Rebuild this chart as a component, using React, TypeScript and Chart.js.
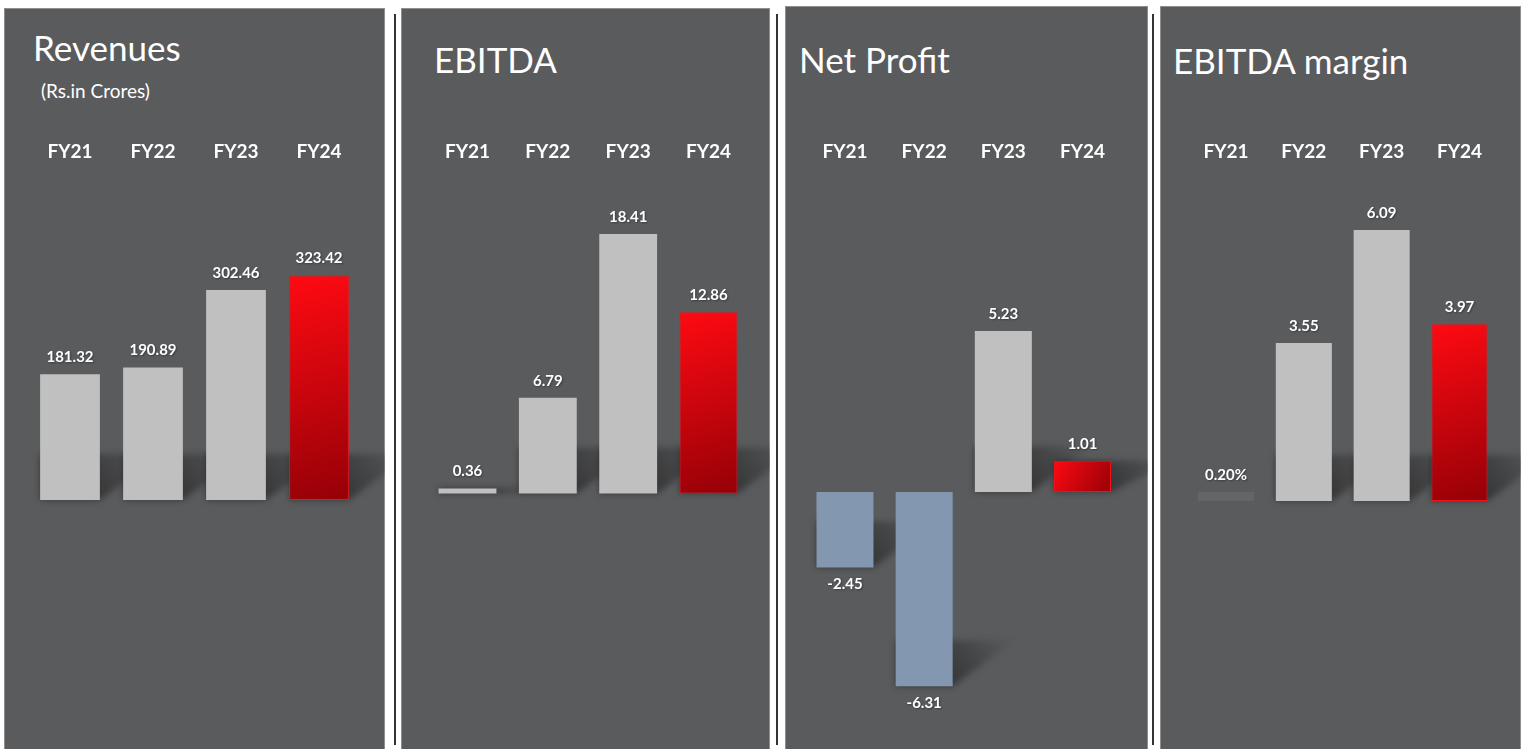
import React, { useEffect, useRef } from 'react';
import { Chart, registerables } from 'chart.js';

Chart.register(...registerables);

// ---------- data ----------
const categories = ['FY21', 'FY22', 'FY23', 'FY24'];
const revenues = [181.32, 190.89, 302.46, 323.42];
const ebitda = [0.36, 6.79, 18.41, 12.86];
const netProfit = [-2.45, -6.31, 5.23, 1.01];
const ebitdaMargin = [0.2, 3.55, 6.09, 3.97];
const marginLabels = ['0.20%', '3.55', '6.09', '3.97'];

const GRAY = '#c0c0c0';
const BLUE = '#8497b0';
const RED = 'RED';
const FAINT = 'rgba(150,150,150,0.18)';
const BG = '#5a5b5d';

type PanelCfg = {
  key: string;
  left: number;
  top: number;
  width: number;
  height: number;
  values: number[];
  labels: string[];
  colors: string[];
  yMin: number;
  yMax: number;
  padLeft: number;
  padRight: number;
  title: string;
  titleLeft: number;
  titleTop: number;
  subtitle?: string;
};

const fmt = (arr: number[]) => arr.map((v) => v.toFixed(2));

const panels: PanelCfg[] = [
  {
    key: 'rev', left: 4, top: 8, width: 381, height: 741,
    values: revenues, labels: fmt(revenues), colors: [GRAY, GRAY, GRAY, RED],
    yMin: -344.4, yMax: 480.7, padLeft: 24.5, padRight: 24.5,
    title: 'Revenues', titleLeft: 33, titleTop: 30, subtitle: '(Rs.in Crores)',
  },
  {
    key: 'ebitda', left: 401, top: 8, width: 369, height: 741,
    values: ebitda, labels: fmt(ebitda), colors: [GRAY, GRAY, GRAY, RED],
    yMin: -17.4, yMax: 23.2, padLeft: 26.3, padRight: 21.3,
    title: 'EBITDA', titleLeft: 434, titleTop: 42,
  },
  {
    key: 'np', left: 785, top: 6, width: 363, height: 743,
    values: netProfit, labels: fmt(netProfit), colors: [BLUE, BLUE, GRAY, RED],
    yMin: -8.02, yMax: 10.57, padLeft: 20.4, padRight: 25.9,
    title: 'Net Profit', titleLeft: 799, titleTop: 42,
  },
  {
    key: 'margin', left: 1160, top: 6, width: 361, height: 743,
    values: ebitdaMargin, labels: marginLabels, colors: [FAINT, GRAY, GRAY, RED],
    yMin: -5.35, yMax: 7.52, padLeft: 27.1, padRight: 22.6,
    title: 'EBITDA margin', titleLeft: 1173, titleTop: 43,
  },
];

function Panel({ cfg }: { cfg: PanelCfg }) {
  const ref = useRef<HTMLCanvasElement | null>(null);

  useEffect(() => {
    const canvas = ref.current;
    if (!canvas) return;

    const shadowPlugin = {
      id: 'barShadow',
      beforeDatasetsDraw(chart: any) {
        const ctx = chart.ctx as CanvasRenderingContext2D;
        const meta = chart.getDatasetMeta(0);
        meta.data.forEach((el: any, i: number) => {
          if (cfg.colors[i] === FAINT) return;
          const { x, y, base, width } = el.getProps(['x', 'y', 'base', 'width'], true);
          const left = x - width / 2;
          const right = x + width / 2;
          const bottom = Math.max(y, base);
          const top = Math.min(y, base);
          const h = Math.min(46, bottom - top);
          if (h < 3) return;
          const dx = 62;
          ctx.save();
          ctx.filter = 'blur(3px)';
          const g = ctx.createLinearGradient(right, bottom, right + dx, bottom - h);
          g.addColorStop(0, 'rgba(30,30,30,0.6)');
          g.addColorStop(1, 'rgba(30,30,30,0)');
          ctx.fillStyle = g;
          ctx.beginPath();
          ctx.moveTo(left, bottom);
          ctx.lineTo(right, bottom);
          ctx.lineTo(right + dx, bottom - h);
          ctx.lineTo(left, bottom - h);
          ctx.closePath();
          ctx.fill();
          ctx.restore();
        });
      },
    };

    const labelPlugin = {
      id: 'valueLabels',
      afterDatasetsDraw(chart: any) {
        const ctx = chart.ctx as CanvasRenderingContext2D;
        const meta = chart.getDatasetMeta(0);
        ctx.save();
        ctx.font = 'bold 15px Lato';
        ctx.fillStyle = '#ffffff';
        ctx.textAlign = 'center';
        ctx.textBaseline = 'middle';
        ctx.shadowColor = 'rgba(0,0,0,0.35)';
        ctx.shadowBlur = 2;
        ctx.shadowOffsetX = 1;
        ctx.shadowOffsetY = 1;
        meta.data.forEach((el: any, i: number) => {
          const v = cfg.values[i];
          const yy = v >= 0 ? el.y - 17 : el.y + 17;
          ctx.fillText(cfg.labels[i], el.x, yy);
        });
        ctx.restore();
      },
    };

    const chart = new Chart(canvas, {
      type: 'bar',
      data: {
        labels: categories,
        datasets: [
          {
            data: cfg.values,
            backgroundColor: (c: any) => {
              const i = c.dataIndex;
              const col = cfg.colors[i];
              if (col !== RED) return col;
              const ch = c.chart;
              const xs = ch.scales?.x;
              const ys = ch.scales?.y;
              if (!xs || !ys) return '#d00010';
              const x = xs.getPixelForValue(i);
              const y0 = ys.getPixelForValue(0);
              const y1 = ys.getPixelForValue(cfg.values[i]);
              if (![x, y0, y1].every((n) => Number.isFinite(n))) return '#d00010';
              const g = ch.ctx.createLinearGradient(x - 30, Math.min(y0, y1), x + 30, Math.max(y0, y1));
              g.addColorStop(0, '#ff0a12');
              g.addColorStop(1, '#950007');
              return g;
            },
            borderColor: cfg.colors.map((c) => (c === RED ? '#f2101c' : c === FAINT ? '#8a8a8a' : 'rgba(0,0,0,0)')),
            borderWidth: cfg.colors.map((c) => (c === RED ? 1 : 0)),
            borderSkipped: false,
            categoryPercentage: 1,
            barPercentage: 0.72,
          },
        ],
      },
      options: {
        animation: false,
        responsive: false,
        maintainAspectRatio: false,
        layout: {
          padding: { top: 137.6, bottom: 10, left: cfg.padLeft, right: cfg.padRight },
        },
        plugins: {
          legend: { display: false },
          tooltip: { enabled: false },
          title: { display: false },
        },
        scales: {
          x: {
            position: 'top',
            grid: { display: false, drawTicks: false },
            border: { display: false },
            ticks: {
              color: '#ffffff',
              padding: 3,
              font: { family: 'Lato', size: 19, weight: 'bold' },
            },
          },
          y: {
            display: false,
            min: cfg.yMin,
            max: cfg.yMax,
          },
        },
      },
      plugins: [shadowPlugin, labelPlugin],
    } as any);

    return () => chart.destroy();
  }, [cfg]);

  return (
    <>
      <div
        style={{
          position: 'absolute',
          left: cfg.left,
          top: cfg.top,
          width: cfg.width,
          height: cfg.height,
          background: BG,
          boxSizing: 'border-box',
          border: '1px solid #8e8e8e',
          borderBottom: 'none',
        }}
      />
      <div
        style={{
          position: 'absolute',
          left: cfg.titleLeft,
          top: cfg.titleTop,
          font: '35px Lato, sans-serif',
          lineHeight: 1,
          color: '#ffffff',
          whiteSpace: 'nowrap',
        }}
      >
        {cfg.title}
      </div>
      {cfg.subtitle ? (
        <div
          style={{
            position: 'absolute',
            left: 41,
            top: 81,
            font: '19px Lato, sans-serif',
            lineHeight: 1,
            color: '#ffffff',
            whiteSpace: 'nowrap',
          }}
        >
          {cfg.subtitle}
        </div>
      ) : null}
      <canvas
        ref={ref}
        width={cfg.width}
        height={749}
        style={{ position: 'absolute', left: cfg.left, top: 0, width: cfg.width, height: 749 }}
      />
    </>
  );
}

export default function App() {
  const separators = [394, 776, 1152];
  return (
    <div
      style={{
        position: 'absolute',
        left: 0,
        top: 0,
        width: 1530,
        height: 749,
        background: '#ffffff',
        overflow: 'hidden',
      }}
    >
      {panels.map((p) => (
        <Panel key={p.key} cfg={p} />
      ))}
      {separators.map((x) => (
        <div
          key={x}
          style={{ position: 'absolute', left: x, top: 14, width: 2, height: 731, background: '#333333' }}
        />
      ))}
    </div>
  );
}
